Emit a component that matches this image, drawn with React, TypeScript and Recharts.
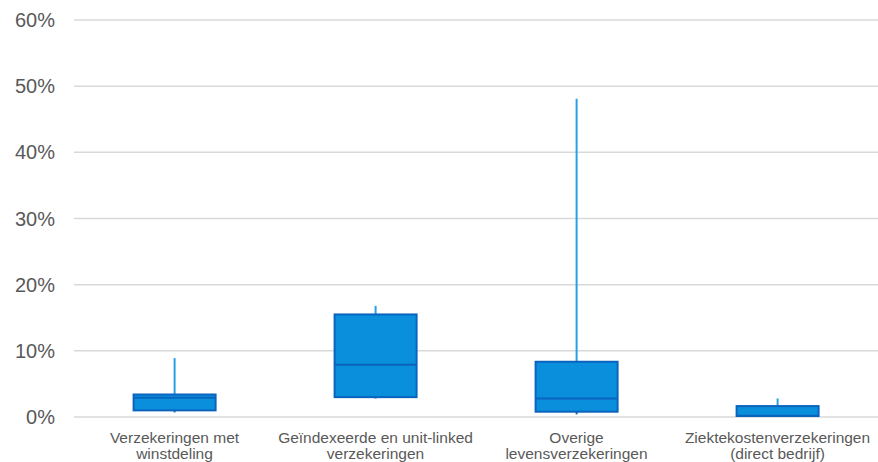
import { ComposedChart, Bar, XAxis, YAxis, CartesianGrid } from 'recharts';

const categories = [
  ['Verzekeringen met', 'winstdeling'],
  ['Geïndexeerde en unit-linked', 'verzekeringen'],
  ['Overige', 'levensverzekeringen'],
  ['Ziektekostenverzekeringen', '(direct bedrijf)'],
];
const minValues = [0.7, 2.8, 0.4, 0.0];
const q1Values = [1.0, 3.0, 0.8, 0.15];
const medianValues = [2.9, 7.9, 2.8, 0.2];
const q3Values = [3.4, 15.5, 8.35, 1.65];
const maxValues = [8.9, 16.8, 48.1, 2.8];
const yTicks = [0, 10, 20, 30, 40, 50, 60];

const data = categories.map((c, i) => ({
  name: c.join(' '),
  min: minValues[i],
  q1: q1Values[i],
  median: medianValues[i],
  q3: q3Values[i],
  max: maxValues[i],
}));

const FONT = "'Liberation Sans', Arial, sans-serif";
const BOX_FILL = '#0A8FDC';
const BOX_STROKE = '#0A64BE';
const WHISKER = '#28A0E6';

// box drawn inside the [min, max] range bar, using its pixel extent as the scale
const BoxShape = (props: any) => {
  const { x, y, width, height, payload } = props;
  const { min, q1, median, q3, max } = payload;
  const span = max - min || 1;
  const py = (v: number) => y + ((max - v) / span) * height;
  const boxW = 82;
  const cx = x + width / 2;
  const bx = cx - boxW / 2;
  return (
    <g>
      <line x1={cx} x2={cx} y1={py(max)} y2={py(q3)} stroke={WHISKER} strokeWidth={2} />
      <line x1={cx} x2={cx} y1={py(q1)} y2={py(min)} stroke={BOX_STROKE} strokeWidth={2} />
      <rect x={bx} y={py(q3)} width={boxW} height={py(q1) - py(q3)} fill={BOX_FILL} stroke={BOX_STROKE} strokeWidth={2} />
      <line x1={bx} x2={bx + boxW} y1={py(median)} y2={py(median)} stroke={BOX_STROKE} strokeWidth={2} />
    </g>
  );
};

const CatTick = (props: any) => {
  const { x, y, index } = props;
  const lines = categories[index] || [];
  return (
    <g transform={`translate(${x},${y})`}>
      {lines.map((l, i) => (
        <text key={i} x={0} y={18 + i * 16} textAnchor="middle" fill="#595959" fontSize={15.5} fontFamily={FONT}>
          {l}
        </text>
      ))}
    </g>
  );
};

export default function App() {
  return (
    <div style={{ position: 'absolute', left: 0, top: 0, background: '#fff' }}>
      <ComposedChart width={878} height={462} data={data} margin={{ top: 20, right: 0, bottom: 0, left: 0 }}>
        <CartesianGrid vertical={false} stroke="#D9D9D9" strokeWidth={1.5} />
        <XAxis dataKey="name" axisLine={false} tickLine={false} height={45} interval={0} tick={<CatTick />} />
        <YAxis domain={[0, 60]} ticks={yTicks} width={74} axisLine={false} tickLine={false}
          tickFormatter={(v) => `${v}%`} tickMargin={13}
          tick={{ fill: '#595959', fontSize: 20, fontFamily: FONT }} />
        <Bar dataKey={(d: any) => [d.min, d.max]} shape={<BoxShape />} isAnimationActive={false} />
      </ComposedChart>
    </div>
  );
}
